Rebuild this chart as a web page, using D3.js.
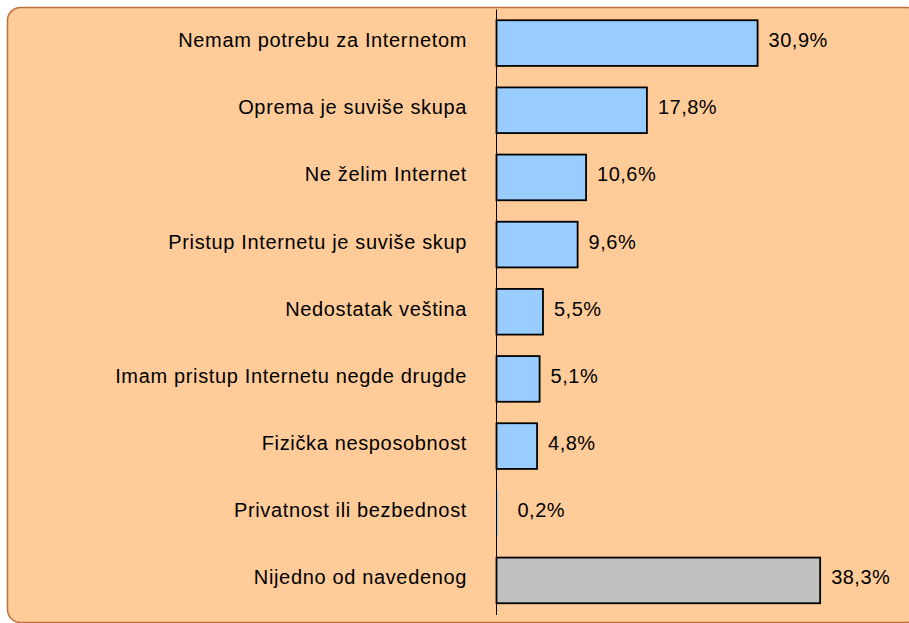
<!DOCTYPE html>
<html>
<head>
<meta charset="utf-8">
<script src="https://cdn.jsdelivr.net/npm/d3@7"></script>
<style>
  body { margin: 0; background: #fff; }
  svg { display: block; }
  text { font-family: Arial, "Liberation Sans", sans-serif; fill: #000; }
</style>
</head>
<body>
<svg id="chart" width="909" height="623"></svg>
<script>
// reasons for not having internet at home
var categories = [
    "Nemam potrebu za Internetom",
    "Oprema je suviše skupa",
    "Ne želim Internet",
    "Pristup Internetu je suviše skup",
    "Nedostatak veština",
    "Imam pristup Internetu negde drugde",
    "Fizička nesposobnost",
    "Privatnost ili bezbednost",
    "Nijedno od navedenog"
];
var values = [30.9, 17.8, 10.6, 9.6, 5.5, 5.1, 4.8, 0.2, 38.3];
var valueLabels = ["30,9%", "17,8%", "10,6%", "9,6%", "5,5%", "5,1%", "4,8%", "0,2%", "38,3%"];

var svg = d3.select("#chart");

// panel background
svg.append("rect")
    .attr("x", 7.5).attr("y", 7.5)
    .attr("width", 912).attr("height", 615)
    .attr("rx", 13).attr("ry", 13)
    .attr("fill", "#ffcc99")
    .attr("stroke", "#c0703f")
    .attr("stroke-width", 1.5);

var x0 = 496.5;
var x = d3.scaleLinear()
    .domain([0, 1])
    .range([x0, x0 + 8.45]);

var y = d3.scaleBand()
    .domain(categories)
    .range([9.5, 614])
    .paddingInner(0.32)
    .paddingOuter(0.16);

var g = svg.append("g");

g.selectAll("rect.bar")
    .data(values)
    .enter().append("rect")
    .attr("class", "bar")
    .attr("x", x(0))
    .attr("y", function(d, i) { return y(categories[i]); })
    .attr("width", function(d) { return x(d) - x(0); })
    .attr("height", y.bandwidth())
    .attr("fill", function(d, i) { return i == categories.length - 1 ? "#c0c0c0" : "#99ccff"; })
    .attr("stroke", function(d) { return d < 1 ? "none" : "#000"; })
    .attr("stroke-width", 1.8);

// value labels
g.selectAll("text.val")
    .data(values)
    .enter().append("text")
    .attr("class", "val")
    .attr("x", function(d) { return Math.max(x(d), x0 + 10) + 11; })
    .attr("y", function(d, i) { return y(categories[i]) + y.bandwidth() / 2 - 3; })
    .attr("dy", "0.35em")
    .style("font-size", "20px")
    .style("letter-spacing", "0.5px")
    .text(function(d, i) { return valueLabels[i]; });

// category labels
g.selectAll("text.cat")
    .data(categories)
    .enter().append("text")
    .attr("class", "cat")
    .attr("x", 467)
    .attr("y", function(d) { return y(d) + y.bandwidth() / 2 - 3; })
    .attr("dy", "0.35em")
    .attr("text-anchor", "end")
    .style("font-size", "20px")
    .style("letter-spacing", "0.65px")
    .text(function(d) { return d; });

// vertical axis line
g.append("line")
    .attr("x1", x0).attr("x2", x0)
    .attr("y1", 9.5).attr("y2", 615)
    .attr("stroke", "#000")
    .attr("stroke-width", 1);
</script>
</body>
</html>
